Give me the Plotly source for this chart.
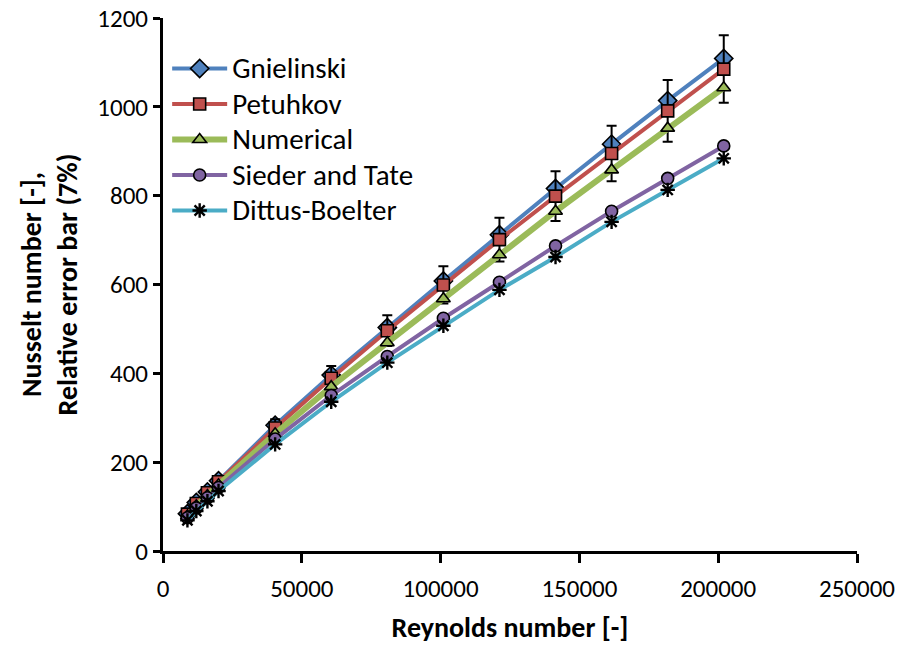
import plotly.graph_objects as go

# Reynolds numbers of the computed cases
reynolds = [8800, 12000, 16000, 20000, 40400, 60600, 80800, 101000,
            121200, 141400, 161600, 181800, 202000]

# Nusselt numbers from each correlation and from the simulations
nu_gnielinski = [84, 109, 133, 158, 283, 396, 503, 608, 712, 816, 916, 1014, 1109]
nu_petuhkov = [83, 107, 131, 156, 277, 389, 496, 599, 701, 799, 895, 991, 1085]
nu_numerical = [79, 102, 125, 149, 264, 370, 469, 568, 667, 765, 858, 952, 1043]
nu_sieder_tate = [75, 97, 120, 143, 252, 350, 438, 524, 605, 687, 765, 839, 912]
nu_dittus_boelter = [69, 90, 112, 135, 240, 336, 424, 507, 588, 662, 741, 813, 884]

error_percent = 7

x_ticks = [0, 50000, 100000, 150000, 200000, 250000]
y_ticks = [0, 200, 400, 600, 800, 1000, 1200]

FONT = "Carlito, Lato, 'Open Sans', sans-serif"

series = [
    ("Gnielinski", nu_gnielinski, "#4F81BD", 4, "diamond", 14, False),
    ("Petuhkov", nu_petuhkov, "#C0504D", 4, "square", 12, True),
    ("Numerical", nu_numerical, "#9BBB59", 6, "triangle-up", 12, False),
    ("Sieder and Tate", nu_sieder_tate, "#8064A2", 4, "circle", 12, False),
    ("Dittus-Boelter", nu_dittus_boelter, "#4BACC6", 4, "asterisk-open", 12, False),
]

fig = go.Figure()
for name, values, color, lw, symbol, msize, with_err in series:
    marker = dict(symbol=symbol, size=msize, color=color,
                  line=dict(color="black", width=1.6))
    if symbol == "asterisk-open":
        marker = dict(symbol=symbol, size=msize, color="black",
                      line=dict(color="black", width=2.4))
    trace = go.Scatter(
        x=reynolds, y=values,
        name=f"<span style='font-size:29px'>{name}</span>",
        mode="lines+markers",
        line=dict(color=color, width=lw),
        marker=marker,
    )
    if with_err:
        trace.error_y = dict(type="percent", value=error_percent, symmetric=True,
                             color="black", thickness=2, width=5)
    fig.add_trace(trace)

axis_common = dict(
    showline=True, linecolor="black", linewidth=3,
    ticks="outside", tickcolor="black", tickwidth=3,
    showgrid=False, zeroline=False, automargin=False,
    tickfont=dict(family=FONT, size=25, color="black"),
)

fig.update_layout(
    width=899, height=645,
    margin=dict(l=163, r=42, t=18, b=94),
    paper_bgcolor="white", plot_bgcolor="white",
    font=dict(family=FONT, color="black"),
    showlegend=True,
    legend=dict(
        x=0.006, y=0.948, xanchor="left", yanchor="top",
        bgcolor="rgba(0,0,0,0)",
        font=dict(family=FONT, size=25, color="black"),
        itemwidth=55, tracegroupgap=0,
    ),
    xaxis=dict(
        range=[0, 250000], tickvals=x_ticks,
        ticktext=[str(v) for v in x_ticks],
        ticklen=9, ticklabelstandoff=4,
        title=dict(text="<b>Reynolds number [-]</b>",
                   font=dict(family=FONT, size=28, color="black"), standoff=16),
        **axis_common,
    ),
    yaxis=dict(
        range=[0, 1200], tickvals=y_ticks,
        ticktext=[str(v) for v in y_ticks],
        ticklen=7,
        title=dict(text="<b>Nusselt number [-],<br>Relative error bar (7%)</b>",
                   font=dict(family=FONT, size=28, color="black"), standoff=12),
        **axis_common,
    ),
)

fig.write_html("out.html")
